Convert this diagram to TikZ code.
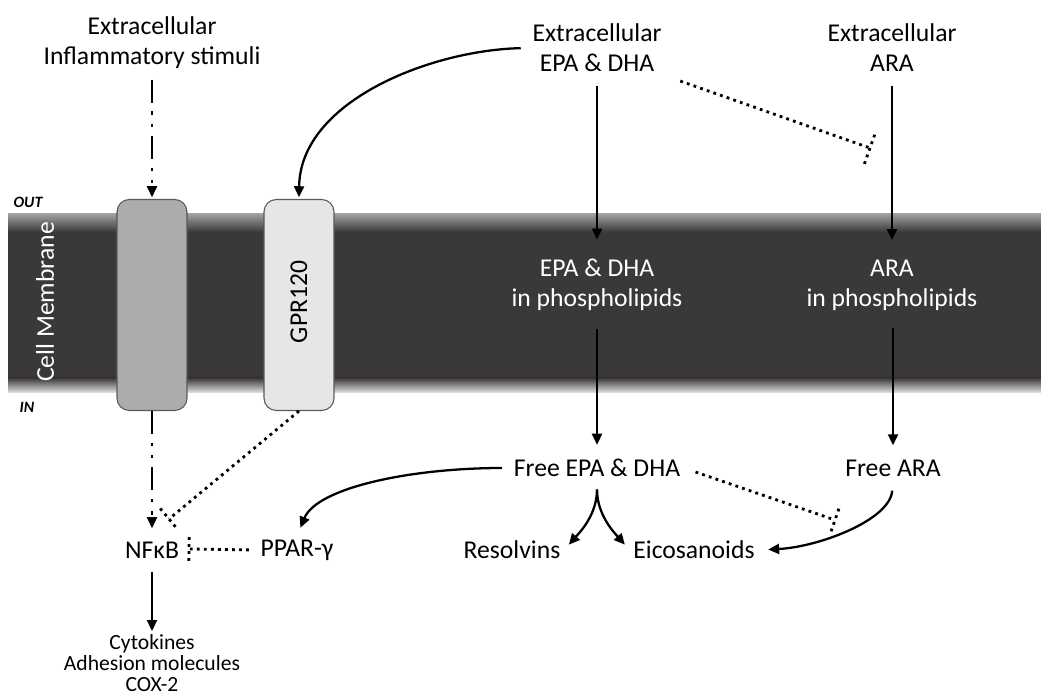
\documentclass[tikz,border=0pt]{standalone}
\usepackage{fontspec}
\setmainfont{Carlito}
\usetikzlibrary{arrows.meta,calc}

\definecolor{membdark}{HTML}{3B3838}
\definecolor{rcptgray}{HTML}{AEABAB}
\definecolor{gprgray}{HTML}{E7E6E6}
\definecolor{edgegray}{HTML}{595959}

\tikzset{
        lbl/.style={align=center, inner sep=2pt, font=\fontsize{14.6}{17}\selectfont},
        small/.style={align=center, inner sep=2pt, font=\fontsize{12.3}{11.8}\selectfont},
        side/.style={inner sep=0pt, font=\fontsize{9}{9}\selectfont\bfseries\itshape},
        arr/.style={line width=1.3pt, -{Triangle[length=2.2mm,width=2mm]}},
        dashdot/.style={arr, dash pattern=on 13pt off 5pt on 2pt off 5pt on 2pt off 5pt},
        dotline/.style={line width=1.6pt, dash pattern=on 1.6pt off 2.4pt},
        rcpt/.style={draw=edgegray, line width=0.6pt, rounded corners=7pt,
                minimum width=1.4cm, minimum height=4.22cm, inner sep=0pt},
}

\newcommand{\inhbar}[3]{\draw[dotline] ($(#1)!#3!90:(#2)$) -- ($(#1)!#3!-90:(#2)$);}

\begin{document}
\begin{tikzpicture}[x=0.02cm, y=-0.02cm]
        \useasboundingbox (0,0) rectangle (1041,695);

        % membrane
        \fill[membdark] (8,215) rectangle (1041,392);
        \shade[top color=gray!75, bottom color=membdark] (8,214) rectangle (1041,232);
        \shade[top color=membdark, bottom color=gray!20] (8,378) rectangle (1041,393);
        \node[rotate=90, lbl, text=white] (cellmem) at (45,302) {Cell Membrane};
        \node[side] (out) at (28,202) {OUT};
        \node[side] (in) at (27,407) {IN};

        \node[rcpt, fill=rcptgray] (rcpt) at (152,305) {};
        \node[rcpt, fill=gprgray] (gpr) at (299,305) {};
        \node[rotate=90, lbl] (gprtxt) at (299,302) {GPR120};

        \node[lbl] (stim) at (152,43) {Extracellular\\Inflammatory stimuli};
        \node[lbl] (epaext) at (597,48) {Extracellular\\EPA \& DHA};
        \node[lbl] (araext) at (892,48) {Extracellular\\ARA};

        \node[lbl, text=white] (epapl) at (597,285) {EPA \& DHA\\in phospholipids};
        \node[lbl, text=white] (arapl) at (892,285) {ARA\\in phospholipids};

        \node[lbl] (fepa) at (597,468) {Free EPA \& DHA};
        \node[lbl] (fara) at (893,468) {Free ARA};

        \node[lbl] (nfkb) at (152,550) {NFκB};
        \node[lbl] (ppar) at (297,550) {PPAR-γ};
        \node[lbl] (res) at (512,550) {Resolvins};
        \node[lbl] (eic) at (694,550) {Eicosanoids};
        \node[small, anchor=north] (cyto) at (152,631) {Cytokines\\Adhesion molecules\\COX-2};

        \coordinate (arabar) at (870,148);
        \coordinate (nfbarA) at (169,519);
        \coordinate (nfbarB) at (189,549);
        \coordinate (eicbar) at (835,520);

        \draw[dashdot, shorten <=4pt, shorten >=1pt] (stim) -- (rcpt.north);
        \draw[dashdot, shorten >=5.5pt] (rcpt.south) -- (nfkb);
        \draw[arr, shorten <=4.5pt, shorten >=1pt] (epaext.west) .. controls +(-97,2) and +(1,-98) .. (gpr.north);

        \draw[arr, shorten <=6pt, shorten >=9pt] (epaext) -- (epapl);
        \draw[arr, shorten <=6pt, shorten >=9pt] (araext) -- (arapl);
        \draw[arr, shorten <=8pt, shorten >=6pt] (epapl) -- (fepa);
        \draw[arr, shorten <=8pt, shorten >=6pt] (arapl.south -| fara) -- (fara);
        \draw[arr, shorten <=5.5pt] (nfkb) -- (cyto);

        \draw[arr, shorten <=4.5pt, shorten >=5pt] (fepa.west) .. controls +(-100,0) and +(20,-48) .. (ppar.north);
        \draw[arr, shorten <=5pt, shorten >=4pt] (fepa.south) .. controls +(0,35) and +(14,-16) .. (res.east);
        \draw[arr, shorten <=5pt, shorten >=4pt] (fepa.south) .. controls +(0,35) and +(-14,-16) .. (eic.west);
        \draw[arr, shorten <=6pt, shorten >=5.5pt] (fara.south) .. controls +(-3,40) and +(60,-3) .. (eic.east);

        \draw[dotline, shorten <=9pt] (epaext.south east) -- (arabar);
        \inhbar{arabar}{epaext.south east}{9.6pt}
        \draw[dotline] (gpr.south) -- (nfbarA);
        \inhbar{nfbarA}{gpr.south}{7.8pt}
        \draw[dotline, shorten <=4.5pt] (ppar.west) -- (nfbarB);
        \inhbar{nfbarB}{ppar.west}{6.8pt}
        \draw[dotline, shorten <=7pt] (fepa.east) -- (eicbar);
        \inhbar{eicbar}{fepa.east}{6.8pt}
\end{tikzpicture}
\end{document}
